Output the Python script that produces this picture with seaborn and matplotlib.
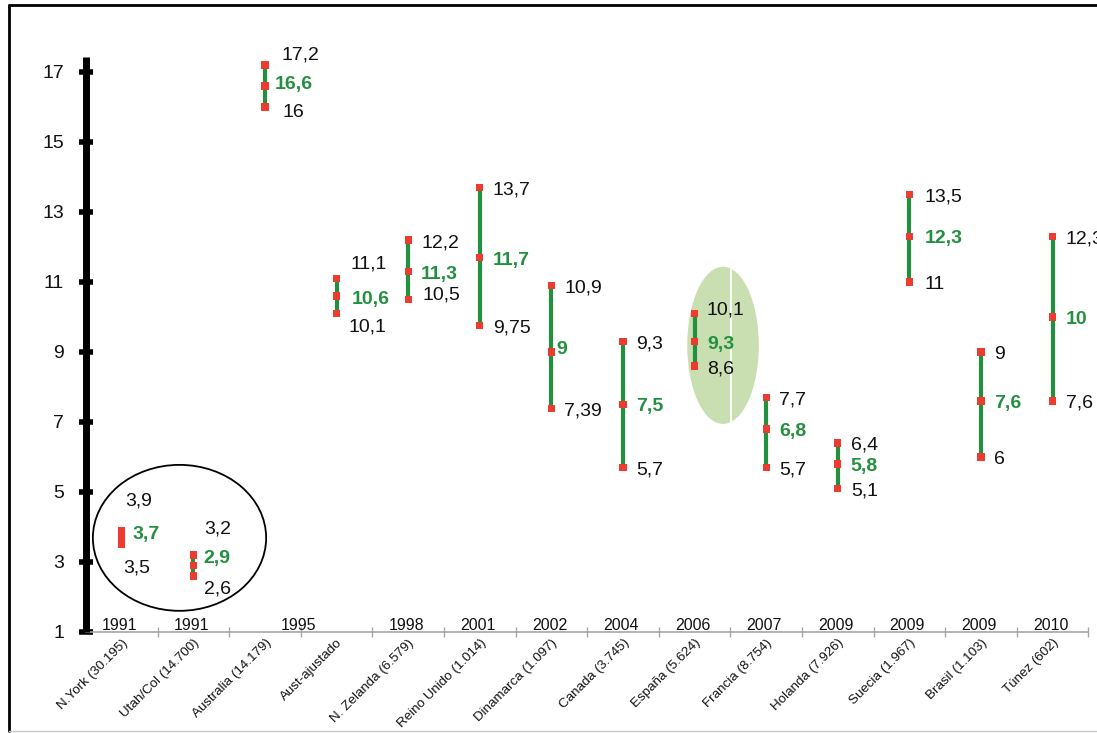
import numpy as np
import pandas as pd
import matplotlib
matplotlib.use("Agg")
import matplotlib.pyplot as plt
import seaborn as sns
from matplotlib.patches import Ellipse
from matplotlib.lines import Line2D
from matplotlib.transforms import ScaledTranslation

# ---------------- data ----------------
countries = ["N.York (30.195)", "Utah/Col (14.700)", "Australia (14.179)", "Aust-ajustado",
             "N. Zelanda (6.579)", "Reino Unido (1.014)", "Dinamarca (1.097)", "Canada (3.745)",
             "España (5.624)", "Francia (8.754)", "Holanda (7.926)", "Suecia (1.967)",
             "Brasil (1.103)", "Túnez (602)"]
low = [3.5, 2.6, 16, 10.1, 10.5, 9.75, 7.39, 5.7, 8.6, 5.7, 5.1, 11, 6, 7.6]
mid = [3.7, 2.9, 16.6, 10.6, 11.3, 11.7, 9, 7.5, 9.3, 6.8, 5.8, 12.3, 7.6, 10]
high = [3.9, 3.2, 17.2, 11.1, 12.2, 13.7, 10.9, 9.3, 10.1, 7.7, 6.4, 13.5, 9, 12.3]
year_labels = ["1991", "1991", "1995", "1998", "2001", "2002", "2004", "2006",
               "2007", "2009", "2009", "2009", "2010"]
year_spans = [1, 1, 2, 1, 1, 1, 1, 1, 1, 1, 1, 1, 1]   # categories covered by each year label
yticks = [1, 3, 5, 7, 9, 11, 13, 15, 17]

# ---------------- style ----------------
GREEN = "#23903f"
RED = "#ee3b2f"
n = len(countries)

# label offsets (pixels: dx right, dy up) of each value label from its marker
default_off = (13, 0)
label_off = {
    (0, "high"): (3, 32), (0, "mid"): (11, 5), (0, "low"): (1, -21),
    (1, "high"): (11, 28), (1, "mid"): (10, 9), (1, "low"): (11, -11),
    (2, "high"): (17, 13), (2, "mid"): (10, 4), (2, "low"): (18, -3),
    (3, "high"): (14, 17), (3, "mid"): (15, -1), (3, "low"): (12, -11),
    (4, "low"): (14, 7),
    (6, "mid"): (5, 5),
    (8, "high"): (12, 6),
    (11, "high"): (15, 0), (11, "mid"): (15, 0), (11, "low"): (15, 0),
}

sns.set_theme(style="white")
plt.rcParams["font.family"] = ["Liberation Sans", "DejaVu Sans"]

W, H = 1097, 733
fig = plt.figure(figsize=(W / 100, H / 100), dpi=100)
left_px, right_px, bottom_px, top_px = 86, 86 + 14 * 71.6, 632, 57
ax = fig.add_axes([left_px / W, (H - bottom_px) / H,
                   (right_px - left_px) / W, (bottom_px - top_px) / H])

rows = []
for i, c in enumerate(countries):
    for kind, v in (("low", low[i]), ("mid", mid[i]), ("high", high[i])):
        rows.append({"pos": i, "value": v, "country": c, "kind": kind})
df = pd.DataFrame(rows)

# decorative ellipses (drawn first, behind data)
circle = Ellipse((0.806, 3.69), 2.42, 4.17, facecolor="none", edgecolor="black",
                 lw=1.3, clip_on=False, zorder=1)
ax.add_patch(circle)
green_ell = Ellipse((8.397, 9.19), 1.0, 4.49, facecolor="#c9dfb1", edgecolor="none",
                    clip_on=False, zorder=0.5)
ax.add_patch(green_ell)
wl, = ax.plot([8.51, 8.51], [6.5, 12], color="white", lw=1.3, zorder=0.6)
wl.set_clip_path(green_ell)

sns.lineplot(data=df, x="pos", y="value", units="country", estimator=None, sort=False,
             color=GREEN, lw=3, ax=ax, legend=False, zorder=2)
sns.scatterplot(data=df, x="pos", y="value", marker="s", s=28, color=RED,
                edgecolor="none", linewidth=0, ax=ax, legend=False, zorder=3)

def fmt(v):
    return f"{v:g}".replace(".", ",")

for r in df.itertuples():
    dx, dy = label_off.get((r.pos, r.kind), default_off)
    is_mid = r.kind == "mid"
    ax.annotate(fmt(r.value), xy=(r.pos, r.value), xytext=(dx, dy - 7),
                textcoords="offset pixels", ha="left", va="baseline",
                fontsize=14, color=GREEN if is_mid else "#111111",
                fontweight="bold" if is_mid else "normal",
                annotation_clip=False, zorder=4)

# year labels above the category axis
start = 0
for lab, sp in zip(year_labels, year_spans):
    xc = start + (sp - 1) / 2
    ax.annotate(lab, xy=(xc, 0), xycoords=ax.get_xaxis_transform(),
                xytext=(-2, 2), textcoords="offset pixels", ha="center", va="baseline",
                fontsize=11.5, color="#111111", annotation_clip=False)
    start += sp

ax.set_xlim(-0.5, n - 0.5)
ax.set_ylim(1, 1 + (bottom_px - top_px) / 35)
ax.set_xlabel("")
ax.set_ylabel("")
ax.set_yticks(yticks)
ax.set_yticklabels([str(t) for t in yticks], fontsize=14, color="#111111")
ax.set_xticks(range(n))
ax.set_xticklabels(countries, rotation=45, ha="right", va="top",
                   rotation_mode="anchor", fontsize=9.6, color="#111111")
shift = ScaledTranslation(6 / 100, 0, fig.dpi_scale_trans)
for lbl in ax.get_xticklabels():
    lbl.set_transform(lbl.get_transform() + shift)
ax.set_xticks(np.arange(0.5, n, 1), minor=True)
ax.tick_params(axis="x", which="major", length=0, pad=3.5)
ax.tick_params(axis="x", which="minor", bottom=True, length=7, direction="inout",
               color="#a6a6a6", width=1)
ax.tick_params(axis="y", which="major", length=9.4, width=4, direction="inout",
               color="black", pad=11, left=True)

for s in ("top", "right"):
    ax.spines[s].set_visible(False)
ax.spines["left"].set_linewidth(5)
ax.spines["left"].set_color("black")
ax.spines["left"].set_capstyle("butt")
ax.spines["bottom"].set_linewidth(1.2)
ax.spines["bottom"].set_color("#a6a6a6")
ax.spines["bottom"].set_zorder(0.8)
ax.patch.set_alpha(0)

# outer frame
fig.add_artist(Line2D([9 / W, 9 / W], [2 / H, 1 - 5 / H], transform=fig.transFigure,
                      color="black", lw=2))
fig.add_artist(Line2D([9 / W, 1], [1 - 5 / H, 1 - 5 / H], transform=fig.transFigure,
                      color="black", lw=2))
fig.add_artist(Line2D([9 / W, 1], [2 / H, 2 / H], transform=fig.transFigure,
                      color="#c8c8c8", lw=1))

fig.savefig("out.png", dpi=100, facecolor="white")
